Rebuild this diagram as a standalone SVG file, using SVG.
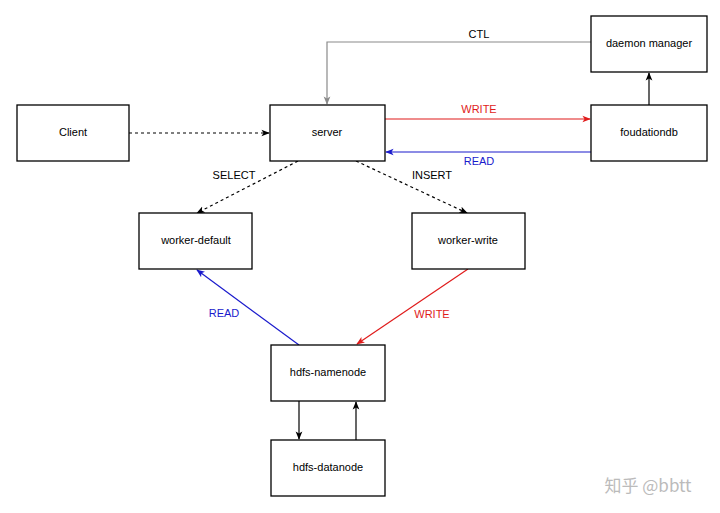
<svg xmlns="http://www.w3.org/2000/svg" width="720" height="513" viewBox="0 0 720 513">
<style>
.n rect{fill:#fff;stroke:#000;stroke-width:1.3}
text{font-family:"Liberation Sans",Arial,sans-serif;font-size:11px;text-anchor:middle;dominant-baseline:middle}
.c path{fill:none;stroke-width:1.2}
.k{stroke:#000}
.d{stroke-dasharray:3 3}
.r{stroke:#e01b1b}
.b{stroke:#1a1acc}
.g{stroke:#8a8a8a}
</style>
<defs>
<marker id="ak" viewBox="0 0 10 10" refX="9" refY="5" markerWidth="7" markerHeight="7" orient="auto"><path d="M0,1L10,5L0,9L2.5,5z" fill="#000"/></marker>
<marker id="ar" viewBox="0 0 10 10" refX="9" refY="5" markerWidth="7" markerHeight="7" orient="auto"><path d="M0,1L10,5L0,9L2.5,5z" fill="#e01b1b"/></marker>
<marker id="ab" viewBox="0 0 10 10" refX="9" refY="5" markerWidth="7" markerHeight="7" orient="auto"><path d="M0,1L10,5L0,9L2.5,5z" fill="#1a1acc"/></marker>
<marker id="ag" viewBox="0 0 10 10" refX="9" refY="5" markerWidth="7" markerHeight="7" orient="auto"><path d="M0,1L10,5L0,9L2.5,5z" fill="#8a8a8a"/></marker>
</defs>
<rect width="720" height="513" fill="#fff"/>
<g id="connectors" class="c">
<path class="k d" d="M129,133H269" marker-end="url(#ak)"/>
<path class="g" d="M591,42H327V104" marker-end="url(#ag)"/>
<path class="r" d="M385,119H590" marker-end="url(#ar)"/>
<path class="b" d="M591,152H386" marker-end="url(#ab)"/>
<path class="k" d="M649,105V73" marker-end="url(#ak)"/>
<path class="k d" d="M298,161L197,213" marker-end="url(#ak)"/>
<path class="k d" d="M356,161L467,213" marker-end="url(#ak)"/>
<path class="b" d="M299,345L197,270" marker-end="url(#ab)"/>
<path class="r" d="M468,269L357,344" marker-end="url(#ar)"/>
<path class="k" d="M299,401V439" marker-end="url(#ak)"/>
<path class="k" d="M356,440V402" marker-end="url(#ak)"/>
<text x="479" y="35">CTL</text>
<text x="479" y="110" fill="#e01b1b">WRITE</text>
<text x="479" y="162" fill="#1a1acc">READ</text>
<text x="234" y="176">SELECT</text>
<text x="432" y="176">INSERT</text>
<text x="224" y="314" fill="#1a1acc">READ</text>
<text x="432" y="315" fill="#e01b1b">WRITE</text>
</g>
<g id="client" class="n"><rect x="17" y="105" width="112" height="56"/><text x="73" y="133">Client</text></g>
<g id="server" class="n"><rect x="270" y="105" width="115" height="56"/><text x="327" y="133">server</text></g>
<g id="foudationdb" class="n"><rect x="591" y="105" width="116" height="56"/><text x="649" y="133">foudationdb</text></g>
<g id="daemon-manager" class="n"><rect x="591" y="16" width="116" height="56"/><text x="649" y="44">daemon manager</text></g>
<g id="worker-default" class="n"><rect x="139" y="213" width="113" height="56"/><text x="196" y="241">worker-default</text></g>
<g id="worker-write" class="n"><rect x="412" y="213" width="113" height="56"/><text x="468" y="241">worker-write</text></g>
<g id="hdfs-namenode" class="n"><rect x="271" y="345" width="114" height="56"/><text x="328" y="373">hdfs-namenode</text></g>
<g id="hdfs-datanode" class="n"><rect x="271" y="440" width="114" height="56"/><text x="328" y="468">hdfs-datanode</text></g>
<text x="648" y="487" style="font-family:'Noto Sans CJK SC',sans-serif;font-size:17px;fill:#bbb">知乎 @bbtt</text>
</svg>
